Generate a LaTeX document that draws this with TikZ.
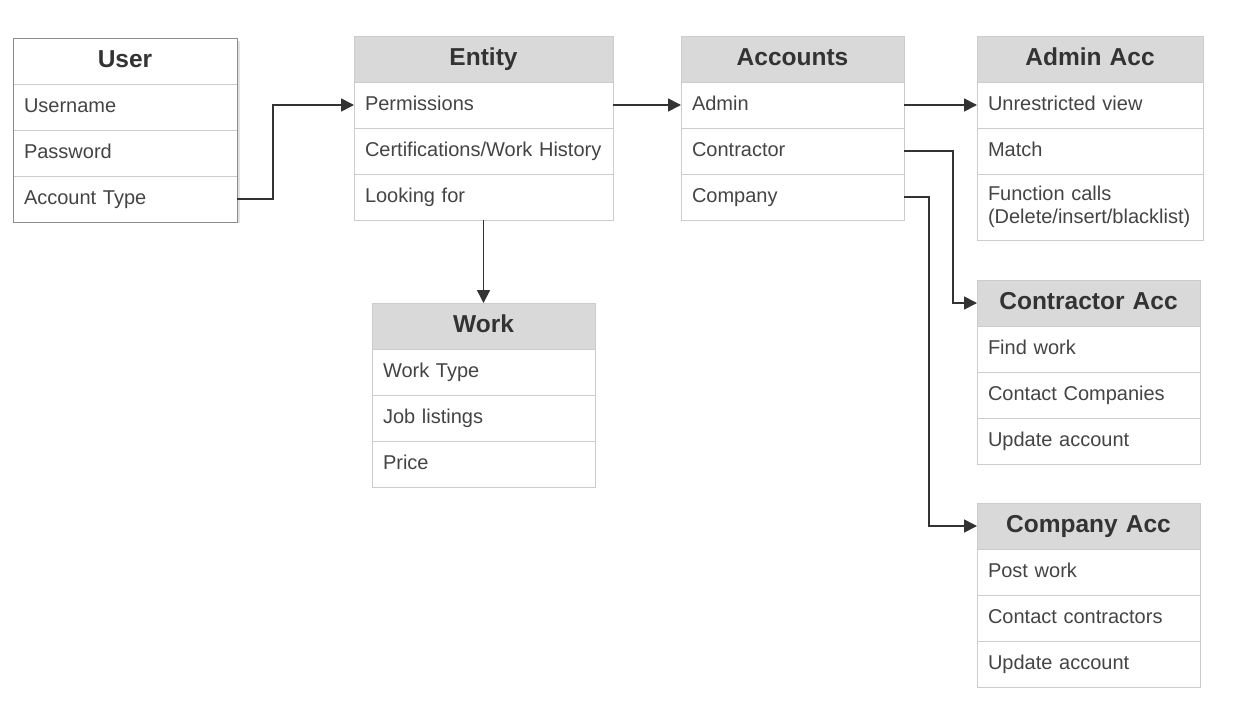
\documentclass[tikz,border=0pt]{standalone}
\usepackage{fontspec}
\setmainfont{Liberation Sans}
\usetikzlibrary{positioning,arrows.meta}

\definecolor{headgray}{HTML}{D9D9D9}
\definecolor{linegray}{HTML}{CCCCCC}
\definecolor{framegray}{HTML}{8C8C8C}
\definecolor{shadowgray}{HTML}{E2E2E2}
\definecolor{textgray}{HTML}{444444}
\definecolor{titlegray}{HTML}{333333}
\definecolor{wiregray}{HTML}{333333}

\begin{document}
\begin{tikzpicture}[x=1pt, y=-1pt,
  row/.style = {draw=linegray, fill=white, text=textgray, anchor=north west,
    text width=#1, inner xsep=11pt, inner ysep=0pt, minimum height=46pt,
    text height=14.5pt, text depth=4pt,
    outer sep=0pt, align=left, font=\fontsize{20}{23}\selectfont},
  head/.style = {row=#1, fill=headgray, text=titlegray, align=center,
    text height=17.5pt, text depth=5pt,
    font=\fontsize{24.5}{28}\selectfont\bfseries},
  wire/.style = {draw=wiregray, line width=1.6pt,
    -{Triangle[length=13pt,width=13pt]}}]

  \fill[white] (0,0) rectangle (1233,707);

  % user
  \fill[shadowgray] (16,41) rectangle (240,223);
  \node[head=202pt, fill=white] (user0) at (13,38) {User};
  \node[row=202pt, below=0pt of user0] (user1) {Username};
  \node[row=202pt, below=0pt of user1] (user2) {Password};
  \node[row=202pt, below=0pt of user2] (user3) {Account Type};
  \draw[framegray, line width=1pt] (user0.north west) rectangle (user3.south east);

  % entity
  \node[head=237pt] (ent0) at (354,36) {Entity};
  \node[row=237pt, below=0pt of ent0] (ent1) {Permissions};
  \node[row=237pt, below=0pt of ent1] (ent2) {Certifications/Work History};
  \node[row=237pt, below=0pt of ent2] (ent3) {Looking for};

  % accounts
  \node[head=201pt] (acc0) at (681,36) {Accounts};
  \node[row=201pt, below=0pt of acc0] (acc1) {Admin};
  \node[row=201pt, below=0pt of acc1] (acc2) {Contractor};
  \node[row=201pt, below=0pt of acc2] (acc3) {Company};

  % admin acc
  \node[head=204pt] (adm0) at (977,36) {Admin Acc};
  \node[row=204pt, below=0pt of adm0] (adm1) {Unrestricted view};
  \node[row=204pt, below=0pt of adm1] (adm2) {Match};
  \node[row=204pt, below=0pt of adm2, minimum height=66pt, text depth=27pt] (adm3)
    {Function calls\\(Delete/insert/blacklist)};

  % contractor acc
  \node[head=201pt] (con0) at (977,280) {Contractor Acc};
  \node[row=201pt, below=0pt of con0] (con1) {Find work};
  \node[row=201pt, below=0pt of con1] (con2) {Contact Companies};
  \node[row=201pt, below=0pt of con2] (con3) {Update account};

  % work
  \node[head=201pt] (work0) at (372,303) {Work};
  \node[row=201pt, below=0pt of work0] (work1) {Work Type};
  \node[row=201pt, below=0pt of work1] (work2) {Job listings};
  \node[row=201pt, below=0pt of work2] (work3) {Price};

  % company acc
  \node[head=201pt] (cpy0) at (977,503) {Company Acc};
  \node[row=201pt, below=0pt of cpy0] (cpy1) {Post work};
  \node[row=201pt, below=0pt of cpy1] (cpy2) {Contact contractors};
  \node[row=201pt, below=0pt of cpy2] (cpy3) {Update account};

  % links
  \draw[wire] (user3.east) -- ++(36,0) |- (ent1.west);
  \draw[wire] (ent1.east) -- (acc1.west);
  \draw[wire] (acc1.east) -- (adm1.west);
  \draw[wire] (acc2.east) -- ++(49,0) |- (con0.west);
  \draw[wire] (acc3.east) -- ++(25,0) |- (cpy0.west);
  \draw[wire] (ent3.south) -- (work0.north);
\end{tikzpicture}
\end{document}
